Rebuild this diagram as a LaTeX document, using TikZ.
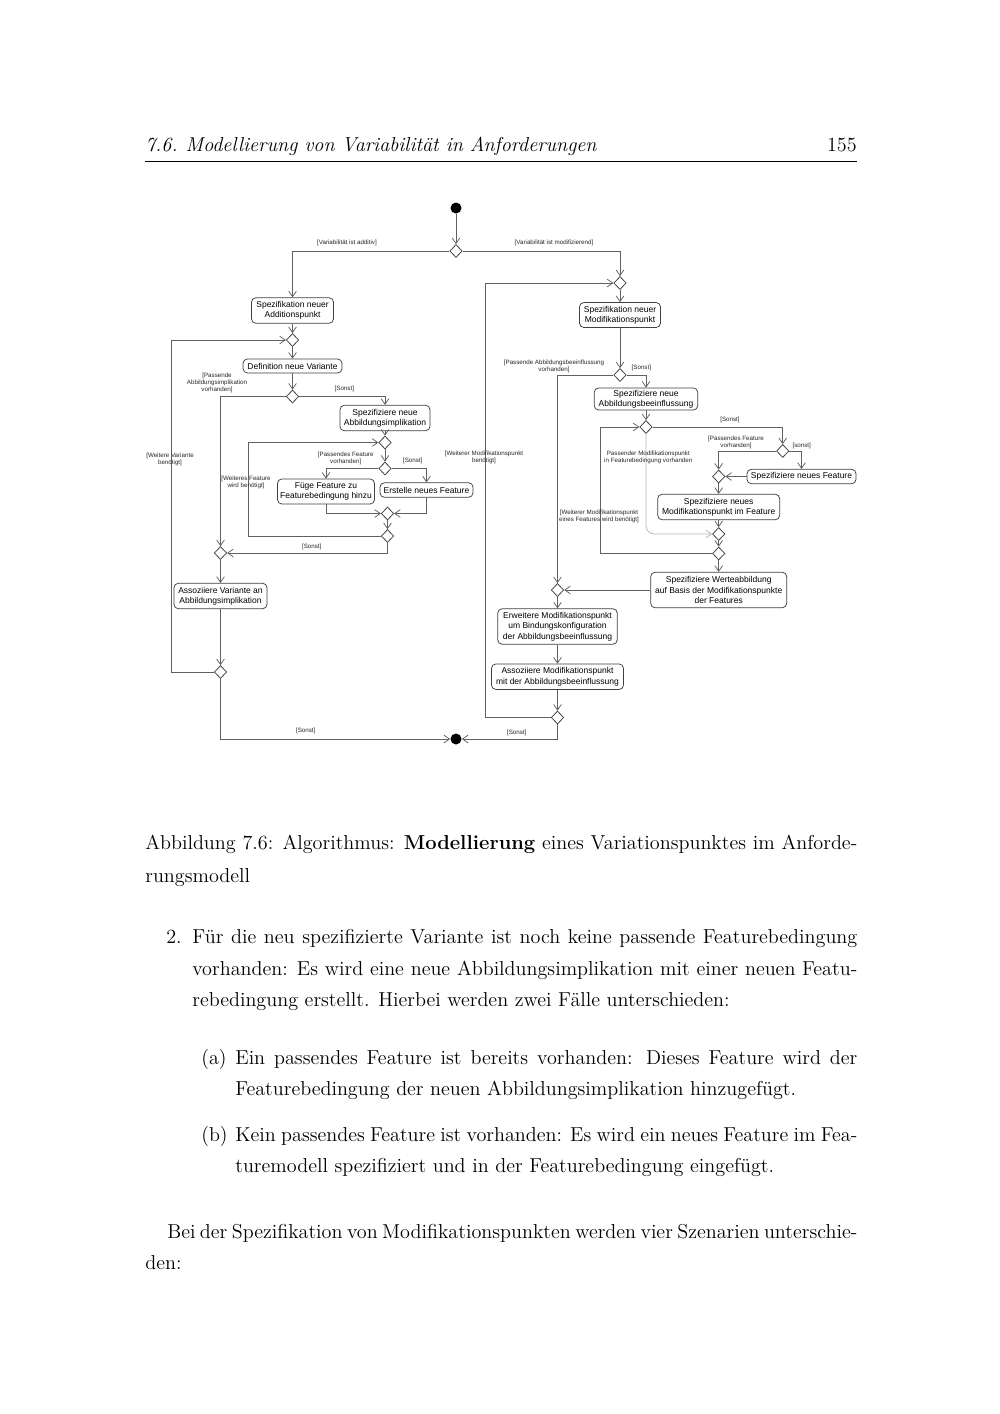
\documentclass[tikz,border=0pt]{standalone}
\usepackage{fontspec}
\newfontfamily\diagfont{Liberation Sans}
\usetikzlibrary{shapes.geometric,arrows.meta}
\newdimen\pxu \pxu=0.5953pt
\tikzset{
 act/.style 2 args={draw=black!75, line width=0.45pt, rounded corners=2.6pt, fill=white, align=center, inner sep=0pt, minimum width=#1*\pxu, minimum height=#2*\pxu, font=\diagfont\fontsize{5.06}{6.15}\selectfont},
 dec/.style={draw=black!75, line width=0.45pt, diamond, fill=white, inner sep=0pt, minimum width=12.5*\pxu, minimum height=13*\pxu},
 ini/.style={circle, fill=black, inner sep=0pt, minimum size=11*\pxu},
 flow/.style={draw=black!62, line width=0.45pt, -{Straight Barb[length=3.3pt,width=4.6pt]}},
 graypath/.style={draw=black!28, rounded corners=5pt},
 lab/.style={font=\diagfont\fontsize{3.7}{4.3}\selectfont, align=center, inner sep=0pt, text=black!85},
 bodytext/.style={anchor=base west, inner sep=0pt, font=\fontsize{12}{14.5}\selectfont},
}
\begin{document}
\begin{tikzpicture}[x=0.5953pt, y=-0.5953pt]
\useasboundingbox (0,0) rectangle (1000,1414);
\fill[white] (0,0) rectangle (1000,1414);

% header
\node[bodytext, font=\fontsize{12}{14.5}\selectfont\itshape] (hd) at (145,151) {7.6.\hspace{0.4em}Modellierung von Variabilität in Anforderungen};
\node[anchor=base east, inner sep=0pt, font=\fontsize{12}{14.5}\selectfont] (pg) at (857,151) {155};
\draw[line width=0.4pt] (145,161.5) -- (857,161.5);

% ---------- left part ----------
\node[ini] (st) at (456,208) {};
\node[dec] (d1) at (456,251) {};
\node[act={82}{25.5}] (a1) at (292.5,310.5) {Spezifikation neuer\\Additionspunkt};
\node[dec] (d2) at (292.5,340) {};
\node[act={99}{14}] (a2) at (292.5,366) {Definition neue Variante};
\node[dec] (d3) at (292.5,396.5) {};
\node[act={90}{25.5}] (a3) at (385,418) {Spezifiziere neue\\Abbildungsimplikation};
\node[dec] (d4) at (385,442.5) {};
\node[dec] (d5) at (385,468.5) {};
\node[act={97}{25}] (a4) at (326,491.5) {Füge Feature zu\\Featurebedingung hinzu};
\node[act={93}{14.5}] (a5) at (426.5,490) {Erstelle neues Feature};
\node[dec] (d6) at (387.5,513.5) {};
\node[dec] (d7) at (387.5,536) {};
\node[dec] (d8) at (220.5,553) {};
\node[act={93}{25.5}] (a6) at (220.5,596) {Assoziiere Variante an\\Abbildungsimplikation};
\node[dec] (d9) at (220.5,672) {};
\node[ini] (en) at (456,739) {};

\draw[flow] (st) -- (d1);
\draw[flow] (d1.west) -| (a1.north);
\draw[flow] (a1) -- (d2);
\draw[flow] (d2) -- (a2);
\draw[flow] (a2) -- (d3);
\draw[flow] (d3.west) -| (d8.north);
\draw[flow] (d3.east) -| (a3.north);
\draw[flow] (a3) -- (d4);
\draw[flow] (d4) -- (d5);
\draw[flow] (d5.west) -| (a4.north);
\draw[flow] (d5.east) -| (a5.north);
\draw[flow] (a4.south) |- (d6.west);
\draw[flow] (a5.south) |- (d6.east);
\draw[flow] (d6) -- (d7);
\coordinate (lp1) at (248.5,536);
\draw[flow] (d7.west) -- (lp1) |- (d4.west);
\draw[flow] (d7.south) |- (d8.east);
\draw[flow] (d8) -- (a6);
\draw[flow] (a6) -- (d9);
\coordinate (lp2) at (171.7,672);
\draw[flow] (d9.west) -- (lp2) |- (d2.west);
\draw[flow] (d9.south) |- (en.west);

% ---------- right part ----------
\node[dec] (d10) at (620,283) {};
\node[act={81}{25}] (b1) at (620,315) {Spezifikation neuer\\Modifikationspunkt};
\node[dec] (d11) at (620,375) {};
\node[act={103.5}{22}] (b2) at (646,399) {Spezifiziere neue\\Abbildungsbeeinflussung};
\node[dec] (d12) at (646,427) {};
\node[dec] (d13) at (782.7,451) {};
\node[act={109}{14.5}] (b3) at (801.5,476.5) {Spezifiziere neues Feature};
\node[dec] (d14) at (718.7,476.5) {};
\node[act={122}{25.5}] (b4) at (718.7,507) {Spezifiziere neues\\Modifikationspunkt im Feature};
\node[dec] (d15) at (718.7,534) {};
\node[dec] (d17) at (718.7,553.5) {};
\node[act={136}{35.5}] (b5) at (718.7,590) {Spezifiziere Werteabbildung\\auf Basis der Modifikationspunkte\\der Features};
\node[dec] (d16) at (557.5,590) {};
\node[act={119.5}{35.5}] (b6) at (557.5,626.5) {Erweitere Modifikationspunkt\\um Bindungskonfiguration\\der Abbildungsbeeinflussung};
\node[act={132}{25.5}] (b7) at (557.5,676.7) {Assoziiere Modifikationspunkt\\mit der Abbildungsbeeinflussung};
\node[dec] (d18) at (557.5,717.5) {};

\draw[flow] (d1.east) -| (d10.north);
\draw[flow] (d10) -- (b1);
\draw[flow] (b1) -- (d11);
\draw[flow] (d11.west) -| (d16.north);
\draw[flow] (d11.east) -| (b2.north);
\draw[flow] (b2) -- (d12);
\draw[flow] (d12.east) -| (d13.north);
\draw[flow] (d13.west) -| (d14.north);
\draw[flow] (d13.east) -| (b3.north);
\draw[flow] (b3.west) -- (d14.east);
\draw[flow] (d14) -- (b4);
\draw[flow] (b4) -- (d15);
\draw[flow, graypath] (d12.south) |- (d15.west);
\draw[flow] (d15) -- (d17);
\coordinate (lp3) at (600.7,553.5);
\draw[flow] (d17.west) -- (lp3) |- (d12.west);
\draw[flow] (d17) -- (b5);
\draw[flow] (b5.west) -- (d16.east);
\draw[flow] (d16) -- (b6);
\draw[flow] (b6) -- (b7);
\draw[flow] (b7) -- (d18);
\coordinate (lp4) at (485,717.5);
\draw[flow] (d18.west) -- (lp4) |- (d10.west);
\draw[flow] (d18.south) |- (en.east);

% ---------- guard labels ----------
\node[lab] (l1) at (347,243) {[Variabilität ist additiv]};
\node[lab] (l2) at (554,242.5) {[Variabilität ist modifizierend]};
\node[lab] (l3) at (217,383) {[Passende\\Abbildungsimplikation\\vorhanden]};
\node[lab] (l4) at (344.3,389) {[Sonst]};
\node[lab] (l5) at (345.7,458.5) {[Passendes Feature\\vorhanden]};
\node[lab] (l6) at (412.7,461) {[Sonst]};
\node[lab] (l7) at (246,482) {[Weiteres Feature\\wird benötigt]};
\node[lab] (l8) at (311.7,547) {[Sonst]};
\node[lab] (l9) at (170,459.5) {[Weitere Variante\\benötigt]};
\node[lab] (l10) at (305.7,730.5) {[Sonst]};
\node[lab] (l11) at (554,366.5) {[Passende Abbildungsbeeinflussung\\vorhanden]};
\node[lab] (l12) at (641.3,368) {[Sonst]};
\node[lab] (l13) at (484,457.5) {[Weiterer Modifikationspunkt\\benötigt]};
\node[lab] (l14) at (730,420) {[Sonst]};
\node[lab] (l15) at (736,442) {[Passendes Feature\\vorhanden]};
\node[lab] (l16) at (801.7,446) {[sonst]};
\node[lab] (l17) at (648.3,457) {Passender Modifikationspunkt\\in Featurebedingung vorhanden};
\node[lab] (l18) at (599,516.5) {[Weiterer Modifikationspunkt\\eines Features wird benötigt]};
\node[lab] (l19) at (516.7,733) {[Sonst]};

% ---------- body text ----------
\node[bodytext] (c1) at (145,849) {\hbox to 712\pxu{Abbildung 7.6: Algorithmus: \textbf{Modellierung} eines Variationspunktes im Anforde-}};
\node[bodytext] (c2) at (145,882) {rungsmodell};

\node[bodytext] (n2) at (166,943) {2.};
\node[bodytext] (p1) at (192,943) {\hbox to 665\pxu{Für die neu spezifizierte Variante ist noch keine passende Featurebedingung}};
\node[bodytext] (p2) at (192,975) {\hbox to 665\pxu{vorhanden: Es wird eine neue Abbildungsimplikation mit einer neuen Featu-}};
\node[bodytext] (p3) at (192,1006) {rebedingung erstellt. Hierbei werden zwei Fälle unterschieden:};

\node[bodytext] (na) at (201,1064) {(a)};
\node[bodytext] (q1) at (235,1064) {\hbox to 622\pxu{Ein passendes Feature ist bereits vorhanden: Dieses Feature wird der}};
\node[bodytext] (q2) at (235,1095) {Featurebedingung der neuen Abbildungsimplikation hinzugefügt.};

\node[bodytext] (nb) at (201,1141) {(b)};
\node[bodytext] (r1) at (235,1141) {\hbox to 622\pxu{Kein passendes Feature ist vorhanden: Es wird ein neues Feature im Fea-}};
\node[bodytext] (r2) at (235,1172) {turemodell spezifiziert und in der Featurebedingung eingefügt.};

\node[bodytext] (s1) at (167,1238) {\hbox to 690\pxu{Bei der Spezifikation von Modifikationspunkten werden vier Szenarien unterschie-}};
\node[bodytext] (s2) at (145,1269) {den:};
\end{tikzpicture}
\end{document}
